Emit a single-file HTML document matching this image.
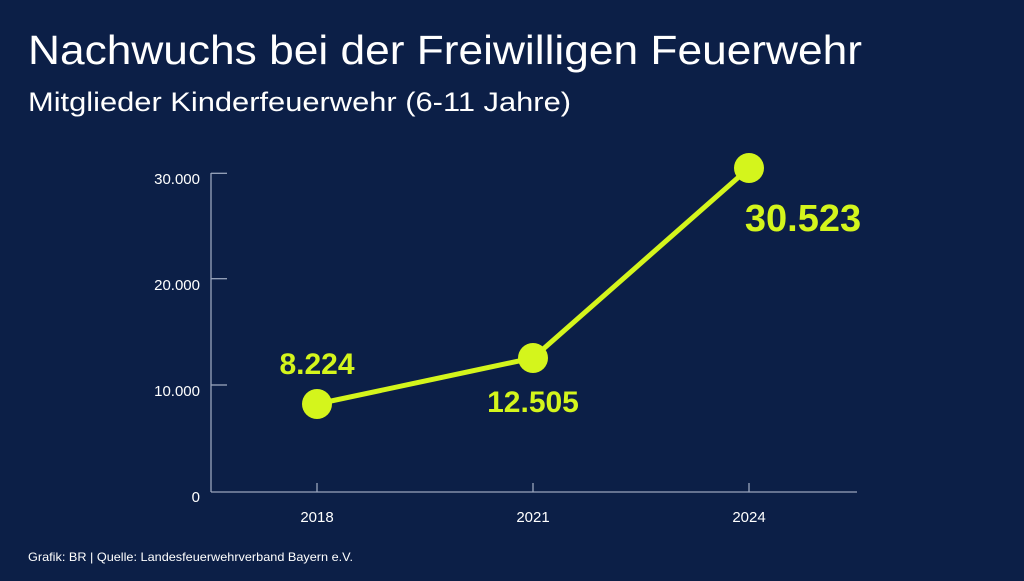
<!DOCTYPE html>
<html><head><meta charset="utf-8"><style>
html,body{margin:0;padding:0;background:#0c1f47;}
body{width:1024px;height:576px;overflow:hidden;font-family:"Liberation Sans","DejaVu Sans",sans-serif;}
</style></head><body>
<svg width="1024" height="576" xmlns="http://www.w3.org/2000/svg">
<rect width="1024" height="576" fill="#0c1f47"/>
<text x="28" y="64" fill="#ffffff" font-size="41" textLength="834" lengthAdjust="spacingAndGlyphs" font-family="Liberation Sans, sans-serif">Nachwuchs bei der Freiwilligen Feuerwehr</text>
<text x="28" y="111" fill="#ffffff" font-size="27" textLength="543" lengthAdjust="spacingAndGlyphs" font-family="Liberation Sans, sans-serif">Mitglieder Kinderfeuerwehr (6-11 Jahre)</text>
<g stroke="#9aa5bd" stroke-width="1.3" fill="none">
<line x1="211" y1="173" x2="211" y2="492"/>
<line x1="211" y1="492" x2="857" y2="492"/>
<line x1="211" y1="173.3" x2="227" y2="173.3"/>
<line x1="211" y1="278.7" x2="227" y2="278.7"/>
<line x1="211" y1="385" x2="227" y2="385"/>
<line x1="317" y1="483" x2="317" y2="492"/>
<line x1="533" y1="483" x2="533" y2="492"/>
<line x1="749" y1="483" x2="749" y2="492"/>
</g>
<g fill="#ffffff" font-size="15" text-anchor="end">
<text x="200" y="184">30.000</text>
<text x="200" y="290">20.000</text>
<text x="200" y="396">10.000</text>
<text x="200" y="502">0</text>
</g>
<g fill="#ffffff" font-size="15" text-anchor="middle">
<text x="317" y="522">2018</text>
<text x="533" y="522">2021</text>
<text x="749" y="522">2024</text>
</g>
<polyline points="317,404 533,358 749,168" stroke="#d4f51c" stroke-width="5" fill="none" stroke-linejoin="round"/>
<circle cx="317" cy="404" r="15" fill="#d4f51c"/>
<circle cx="533" cy="358" r="15" fill="#d4f51c"/>
<circle cx="749" cy="168" r="15" fill="#d4f51c"/>
<g fill="#d4f51c" font-weight="bold">
<text x="317" y="374" font-size="30" text-anchor="middle">8.224</text>
<text x="533" y="412" font-size="30" text-anchor="middle">12.505</text>
<text x="803" y="231" font-size="38" text-anchor="middle">30.523</text>
</g>
<text x="28" y="561" fill="#ffffff" font-size="12" textLength="325" lengthAdjust="spacingAndGlyphs">Grafik: BR | Quelle: Landesfeuerwehrverband Bayern e.V.</text>
</svg>
</body></html>
